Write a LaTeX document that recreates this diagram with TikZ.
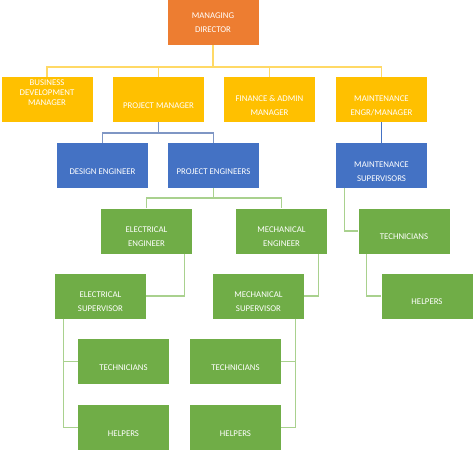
\documentclass[tikz,border=0pt]{standalone}
\usepackage{fontspec}
\setmainfont{Carlito}
\usetikzlibrary{calc}
\definecolor{cor}{HTML}{ED7D31}
\definecolor{cyl}{HTML}{FFC000}
\definecolor{cbl}{HTML}{4472C4}
\definecolor{cgr}{HTML}{70AD47}
\definecolor{lyl}{HTML}{FFD966}
\definecolor{lbg}{HTML}{7F96C4}
\definecolor{lbl}{HTML}{4472C4}
\definecolor{lgr}{HTML}{A9D18E}
\tikzset{
  orgbox/.style={fill=#1, draw=none, minimum width=91pt, minimum height=45pt, inner sep=0pt},
  txt/.style={text=white, align=center, inner sep=0pt, font=\fontsize{8.8}{14}\selectfont},
  txtc/.style={text=white, align=center, inner sep=0pt, font=\fontsize{8.8}{10}\selectfont},
  conn/.style={draw=#1, line width=1.2pt}
}
\newcommand\obx[5]{\node[orgbox=#1] (#2) at (#3) {}; \node[txt] (#2t) at ([yshift=#4]#2.center) {#5};}
\begin{document}
\begin{tikzpicture}[x=1pt,y=-1pt]
\useasboundingbox (0,0) rectangle (474,450);
% boxes
\obx{cor}{md}{213,22.5}{0pt}{MANAGING\\DIRECTOR}
\node[orgbox=cyl] (bd) at (47,99.5) {};
\node[txtc] (bdt) at (47,93) {BUSINESS\\DEVELOPMENT\\MANAGER};
\obx{cyl}{pm}{158.5,99.5}{-6pt}{PROJECT MANAGER}
\obx{cyl}{fa}{269.5,99.5}{-6pt}{FINANCE \& ADMIN\\MANAGER}
\obx{cyl}{me}{381.5,99.5}{-6pt}{MAINTENANCE\\ENGR/MANAGER}
\obx{cbl}{de}{102.5,165.5}{-6pt}{DESIGN ENGINEER}
\obx{cbl}{pe}{213.5,165.5}{-6pt}{PROJECT ENGINEERS}
\obx{cbl}{ms}{381.5,165.5}{-6pt}{MAINTENANCE\\SUPERVISORS}
\obx{cgr}{ee}{146.5,231}{-6pt}{ELECTRICAL\\ENGINEER}
\obx{cgr}{mee}{281.5,231}{-6pt}{MECHANICAL\\ENGINEER}
\obx{cgr}{mt}{404,231}{-6pt}{TECHNICIANS}
\obx{cgr}{es}{100.5,296}{-6pt}{ELECTRICAL\\SUPERVISOR}
\obx{cgr}{mes}{258.5,296}{-6pt}{MECHANICAL\\SUPERVISOR}
\obx{cgr}{mh}{427,296}{-6pt}{HELPERS}
\obx{cgr}{et}{123.5,361.5}{-6pt}{TECHNICIANS}
\obx{cgr}{met}{235.5,361.5}{-6pt}{TECHNICIANS}
\obx{cgr}{eh}{123.5,427.5}{-6pt}{HELPERS}
\obx{cgr}{meh}{235.5,427.5}{-6pt}{HELPERS}
% buses
\coordinate (ybus) at (0,67);
\coordinate (bbus) at (0,133);
\coordinate (gbus) at (0,198);
% yellow connectors
\draw[conn=lyl] (md.south) -- (md.south |- ybus);
\draw[conn=lyl] (bd.north) |- (ybus -| me.north) -- (me.north);
\draw[conn=lyl] (pm.north) -- (pm.north |- ybus);
\draw[conn=lyl] (fa.north) -- (fa.north |- ybus);
% blue connectors
\draw[conn=lbg] (pm.south) -- (pm.south |- bbus);
\draw[conn=lbg] (de.north) |- (bbus -| pe.north) -- (pe.north);
\draw[conn=lbl] (me.south) -- (ms.north);
% green connectors
\draw[conn=lgr] (pe.south) -- (pe.south |- gbus);
\draw[conn=lgr] (ee.north) |- (gbus -| mee.north) -- (mee.north);
\draw[conn=lgr] ($(ms.south west)+(9,0)$) |- (mt.west);
\draw[conn=lgr] ($(mt.south west)+(8,0)$) |- (mh.west);
\draw[conn=lgr] ($(ee.south east)+(-8,0)$) |- (es.east);
\draw[conn=lgr] ($(mee.south east)+(-9,0)$) |- (mes.east);
\draw[conn=lgr] ($(es.south west)+(9,0)$) |- (et.west);
\draw[conn=lgr] ($(es.south west)+(9,0)$) |- (eh.west);
\draw[conn=lgr] ($(mes.south east)+(-9,0)$) |- (met.east);
\draw[conn=lgr] ($(mes.south east)+(-9,0)$) |- (meh.east);
\end{tikzpicture}
\end{document}
